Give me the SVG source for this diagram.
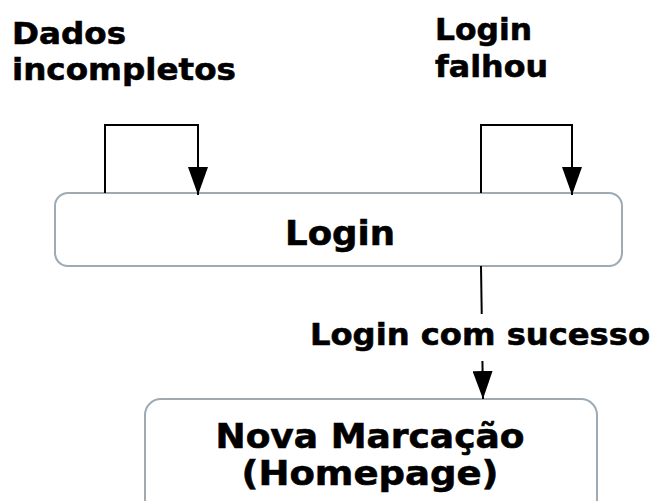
<svg xmlns="http://www.w3.org/2000/svg" width="656" height="501" viewBox="0 0 656 501">
  <style>
    .node { fill: #ffffff; stroke: #9eabb5; stroke-width: 2; }
    .edge { fill: none; stroke: #000000; stroke-width: 2; }
    .label { font-family: "DejaVu Sans", "Verdana", sans-serif; font-weight: bold; fill: #000000; stroke: #000000; stroke-width: 0.6; }
    .ntext { font-size: 34px; text-anchor: middle; }
    .etext { font-size: 31px; }
  </style>
  <defs>
    <marker id="arrow" markerUnits="userSpaceOnUse" markerWidth="28" markerHeight="20" refX="28" refY="10" orient="auto">
      <polygon points="0,0 28,10 0,20" fill="#000000"/>
    </marker>
  </defs>

  <rect width="656" height="501" fill="#ffffff"/>

  <!-- nodes -->
  <g id="login">
    <rect class="node" x="55" y="193" width="567" height="73" rx="13"/>
    <text class="label ntext" x="340" y="245" textLength="110" lengthAdjust="spacingAndGlyphs">Login</text>
  </g>
  <g id="nova-marcacao">
    <rect class="node" x="145" y="399" width="452" height="140" rx="16"/>
    <text class="label ntext" x="370" y="448" textLength="309" lengthAdjust="spacingAndGlyphs">Nova Marcação</text>
    <text class="label ntext" x="370" y="485" textLength="257" lengthAdjust="spacingAndGlyphs">(Homepage)</text>
  </g>

  <!-- connectors -->
  <g id="connectors">
    <g id="edge-dados-incompletos">
      <path class="edge" d="M105,193 V125 H198 V195" marker-end="url(#arrow)"/>
      <text class="label etext" x="12" y="44" textLength="114" lengthAdjust="spacingAndGlyphs">Dados</text>
      <text class="label etext" x="12" y="80" textLength="224" lengthAdjust="spacingAndGlyphs">incompletos</text>
    </g>
    <g id="edge-login-falhou">
      <path class="edge" d="M481,193 V125 H572 V195" marker-end="url(#arrow)"/>
      <text class="label etext" x="435" y="40" textLength="97" lengthAdjust="spacingAndGlyphs">Login</text>
      <text class="label etext" x="435" y="77" textLength="113" lengthAdjust="spacingAndGlyphs">falhou</text>
    </g>
    <g id="edge-login-sucesso">
      <path class="edge" d="M481,266 L483,399" marker-end="url(#arrow)"/>
      <rect x="308" y="314" width="346" height="47" fill="#ffffff"/>
      <text class="label etext" x="310" y="345" textLength="340" lengthAdjust="spacingAndGlyphs">Login com sucesso</text>
    </g>
  </g>
</svg>
